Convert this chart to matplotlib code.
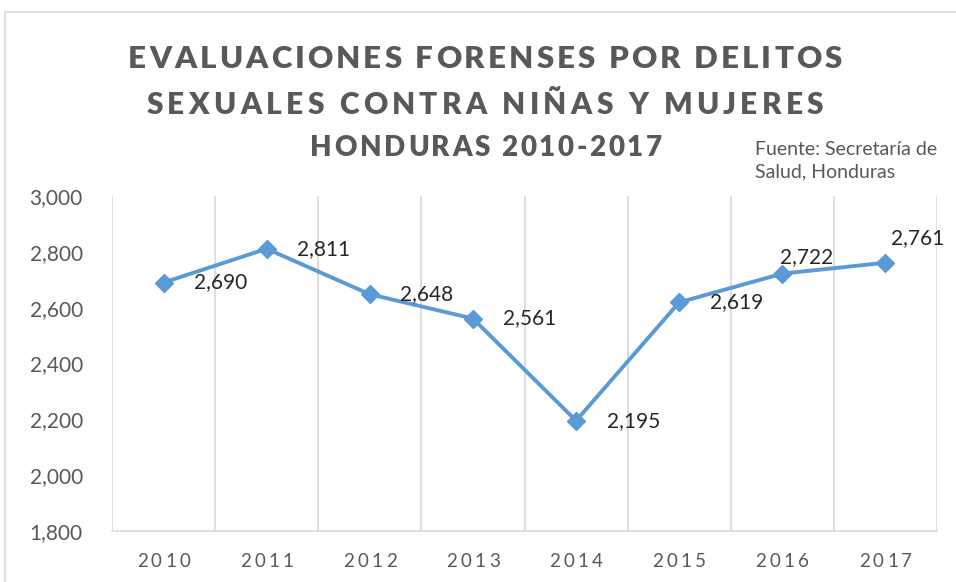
import matplotlib
matplotlib.use('Agg')
import matplotlib.pyplot as plt
from matplotlib.patches import Rectangle
from matplotlib.transforms import IdentityTransform

years = ['2010', '2011', '2012', '2013', '2014', '2015', '2016', '2017']
values = [2690, 2811, 2648, 2561, 2195, 2619, 2722, 2761]
title_lines = ['EVALUACIONES FORENSES POR DELITOS',
               'SEXUALES CONTRA NIÑAS Y MUJERES',
               'HONDURAS 2010-2017']
source = 'Fuente: Secretaría de\nSalud, Honduras'

W, H = 956, 582
plt.rcParams['font.family'] = ['Lato', 'DejaVu Sans']
grey = '#595959'
blue = '#5B9BD5'
grid = '#D9D9D9'

fig = plt.figure(figsize=(W / 100, H / 100), dpi=100)
renderer = fig.canvas.get_renderer()


def char_w(ch, size, weight):
    # width of one char in pixels (spaces measured via difference)
    if ch == ' ':
        a = fig.text(0, 0, 'aa', fontsize=size, fontweight=weight)
        b = fig.text(0, 0, 'a a', fontsize=size, fontweight=weight)
        w = b.get_window_extent(renderer).width - a.get_window_extent(renderer).width
        a.remove(); b.remove()
        return w
    t = fig.text(0, 0, ch, fontsize=size, fontweight=weight)
    w = t.get_window_extent(renderer).width
    t.remove()
    return w


def spaced(s, cx, base_y, size, weight='normal', color=grey, track=0.0, width=None):
    # cx, base_y in pixels from left / top; width -> stretch tracking to fit
    ws = [char_w(c, size, weight) for c in s]
    if width is not None:
        track = (width - sum(ws)) / (len(s) - 1)
    total = sum(ws) + track * (len(s) - 1)
    x = cx - total / 2
    for c, w in zip(s, ws):
        if c != ' ':
            fig.text(x, H - base_y, c, fontsize=size, fontweight=weight, color=color,
                     ha='left', va='baseline', transform=IdentityTransform())
        x += w + track


# outer chart border
fig.patches.append(Rectangle((5 / W, -0.1), 1.2, 1 - 12 / H + 0.1, transform=fig.transFigure,
                             fill=False, edgecolor=grid, linewidth=1.2))

ax = fig.add_axes([112 / W, (H - 531) / H, (937 - 112) / W, (531 - 196) / H])
x = list(range(len(years)))
ax.plot(x, values, color=blue, linewidth=2.8, marker='D', markersize=9, zorder=3)
ax.set_xlim(-0.5, len(years) - 0.5)
ax.set_ylim(1800, 3000)
ax.set_yticks(range(1800, 3001, 200))
ax.set_yticklabels([f'{v:,}' for v in range(1800, 3001, 200)], fontsize=15, color=grey)
ax.set_xticks([])
for b in [i - 0.5 for i in range(len(years) + 1)]:
    ax.axvline(b, color=grid, linewidth=1.2, zorder=1)
for s in ['top', 'right', 'left']:
    ax.spines[s].set_visible(False)
ax.spines['bottom'].set_color(grid)
ax.spines['bottom'].set_linewidth(1.2)
ax.tick_params(axis='y', length=0, pad=21)

# data labels: offsets in points
offsets = [(22, 0), (22, 0), (22, 0), (22, 0), (22, 0), (22, 0), (-2, 12), (4, 18)]
for i, v in enumerate(values):
    ax.annotate(f'{v:,}', (i, v), xytext=offsets[i], textcoords='offset points',
                fontsize=15, color='#262626', ha='left', va='center')

# x category labels with letter spacing
fig.canvas.draw()
for i, yr in enumerate(years):
    px = ax.transData.transform((i, 1800))[0]
    spaced(yr, px, 567, 13.5, color=grey, track=3.3)

# title
spaced(title_lines[0], 485, 68, 22.5, 'heavy', grey, width=714)
spaced(title_lines[1], 485, 114, 21.5, 'heavy', grey, width=677)
spaced(title_lines[2], 486, 156, 20, 'heavy', grey, width=351)

fig.text(755 / W, 1 - 161 / H, source, fontsize=14, color=grey, ha='left', va='center',
         linespacing=1.4)

fig.savefig('out.png', dpi=100)
